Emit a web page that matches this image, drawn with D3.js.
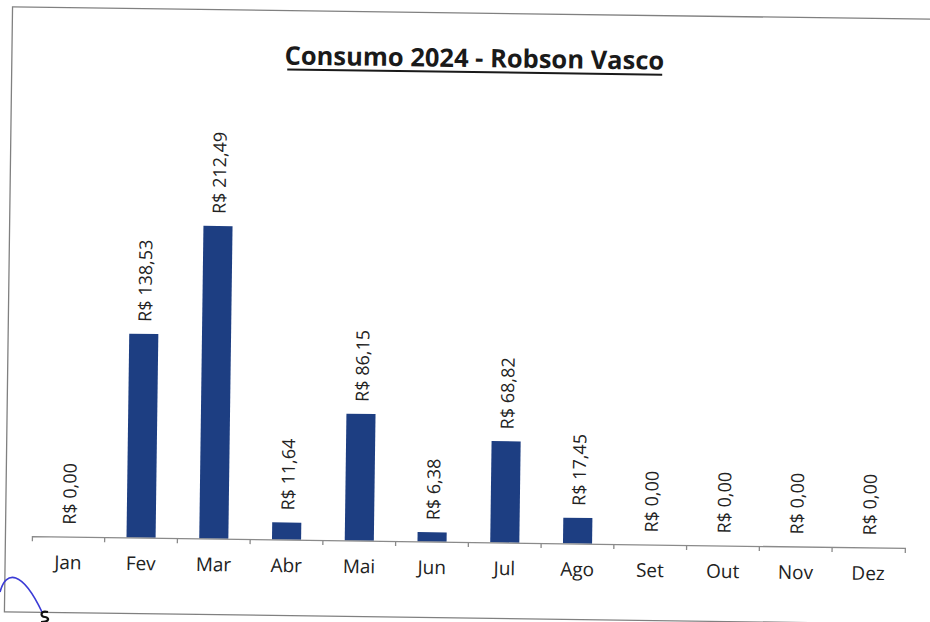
<!DOCTYPE html>
<html>
<head>
<meta charset="utf-8">
<script src="https://cdn.jsdelivr.net/npm/d3@7"></script>
<style>
  html, body { margin: 0; padding: 0; background: #fff; }
  svg { display: block; }
</style>
</head>
<body>
<script>
// ---- Data ----
const months = ["Jan", "Fev", "Mar", "Abr", "Mai", "Jun", "Jul", "Ago", "Set", "Out", "Nov", "Dez"];
const values = [0, 138.53, 212.49, 11.64, 86.15, 6.38, 68.82, 17.45, 0, 0, 0, 0];
const title = "Consumo 2024 - Robson Vasco";

const W = 930, H = 622;
const ptBR = d3.formatLocale({ decimal: ",", thousands: ".", grouping: [3], currency: ["R$ ", ""] });
const fmt = ptBR.format("$,.2f");

const svg = d3.select("body").append("svg").attr("width", W).attr("height", H);
svg.append("rect").attr("width", W).attr("height", H).attr("fill", "#fff");

// slight scan tilt
const g = svg.append("g").attr("transform", "rotate(0.77, 465, 311)");

// frame (right edge falls outside the scan)
g.append("rect")
  .attr("x", 8.5).attr("y", 13).attr("width", 945).attr("height", 605)
  .attr("fill", "none").attr("stroke", "#808080").attr("stroke-width", 1.3);

const baseY = 542;
const x = d3.scaleBand().domain(months).range([35, 908]).paddingInner(0.6).paddingOuter(0.3);
const y = d3.scaleLinear().domain([0, 250]).range([baseY, baseY - 250 * 1.4716]);

// title
g.append("text")
  .attr("x", 471).attr("y", 67)
  .attr("text-anchor", "middle")
  .attr("font-family", "'Open Sans', sans-serif")
  .attr("font-weight", "bold")
  .attr("font-size", 25.5)
  .attr("fill", "#1a1a1a")
  .text(title);
g.append("line")
  .attr("x1", 284).attr("x2", 659).attr("y1", 72).attr("y2", 72)
  .attr("stroke", "#1a1a1a").attr("stroke-width", 2);

// bars
g.selectAll("rect.bar").data(values).enter().append("rect")
  .attr("class", "bar")
  .attr("x", (d, i) => x(months[i]))
  .attr("width", x.bandwidth())
  .attr("y", d => y(d))
  .attr("height", d => y(0) - y(d))
  .attr("fill", "#1d3e82");

// value labels
g.selectAll("text.val").data(values).enter().append("text")
  .attr("class", "val")
  .attr("transform", (d, i) => `translate(${x(months[i]) + x.bandwidth() / 2 + 1},${y(d) - 12}) rotate(-90)`)
  .attr("dy", "0.35em")
  .attr("text-anchor", "start")
  .attr("font-family", "'Open Sans', sans-serif")
  .attr("font-size", 18)
  .attr("fill", "#222")
  .text(d => fmt(d));

// axis
const axis = g.append("g")
  .attr("transform", `translate(0,${baseY})`)
  .call(d3.axisBottom(x).tickSize(0).tickSizeOuter(5));
axis.select(".domain").attr("stroke", "#8a8a8a").attr("stroke-width", 1.3);
axis.selectAll(".tick text")
  .attr("y", 32.5).attr("dy", 0)
  .attr("font-family", "'Open Sans', sans-serif")
  .attr("font-size", 19)
  .attr("fill", "#222");
// category boundary ticks
const bounds = d3.range(1, months.length).map(i => x.range()[0] + i * x.step());
axis.selectAll("line.bnd").data(bounds).enter().append("line")
  .attr("class", "bnd")
  .attr("x1", d => d).attr("x2", d => d)
  .attr("y1", 0).attr("y2", 5)
  .attr("stroke", "#8a8a8a").attr("stroke-width", 1.3);

// pen mark from the scan (decoration)
svg.append("path")
  .attr("d", "M0,592 C6,570 22,570 42,612")
  .attr("fill", "none").attr("stroke", "#3b3bd6").attr("stroke-width", 1.6);
svg.append("path")
  .attr("d", "M48,612 C40,610 40,617 45,617 C50,618 49,622 41,622")
  .attr("fill", "none").attr("stroke", "#111").attr("stroke-width", 2.2);
</script>
</body>
</html>
